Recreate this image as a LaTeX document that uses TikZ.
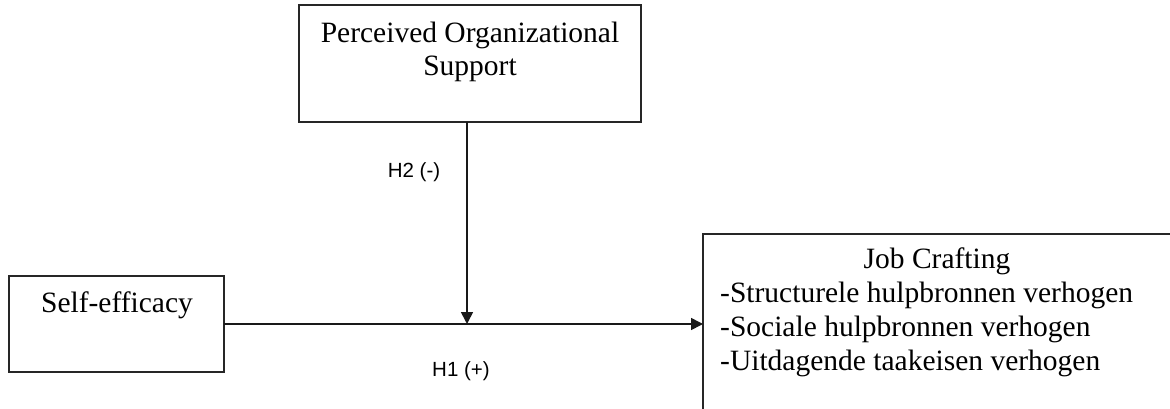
\documentclass[tikz,border=0pt]{standalone}
\usepackage{fontspec}
\setmainfont{Liberation Serif}
\newfontfamily\labelfont{Liberation Sans}
\usetikzlibrary{arrows.meta}
\begin{document}
\begin{tikzpicture}[x=1pt,y=-1pt,
  boxstyle/.style={draw=black!85,line width=1.6pt,inner sep=0pt,outer sep=0pt},
  openbox/.style={inner sep=0pt,outer sep=0pt},
  edge/.style={draw=black!85,line width=1.6pt},
  maintext/.style={font=\fontsize{29.5}{34}\selectfont,inner sep=0pt,anchor=base},
  hyplabel/.style={font=\labelfont\fontsize{20.5}{22}\selectfont,inner sep=0pt},
  conn/.style={line width=1.6pt,draw=black!90,-{Triangle[width=12pt,length=12pt]}}]
\useasboundingbox[fill=white] (0,0) rectangle (1170,409);
% boxes
\node[boxstyle,minimum width=342pt,minimum height=117pt] (pos) at (470,63.5) {};
\node[boxstyle,minimum width=215pt,minimum height=96pt] (se) at (116.5,324) {};
\node[openbox,minimum width=467pt,minimum height=175pt] (jc) at (936.5,321.5) {};
\draw[edge] (jc.south west) -- (jc.north west) -- (jc.north east);
% texts
\node[maintext] (t1) at (470,43) {Perceived Organizational};
\node[maintext] (t2) at (470,76) {Support};
\node[maintext] (t3) at (117,312) {Self-efficacy};
\node[maintext] (t4) at (937,268) {Job Crafting};
\node[maintext,anchor=base west] (t5) at (720,302) {-Structurele hulpbronnen verhogen};
\node[maintext,anchor=base west] (t6) at (720,336) {-Sociale hulpbronnen verhogen};
\node[maintext,anchor=base west] (t7) at (720,370) {-Uitdagende taakeisen verhogen};
% labels
\node[hyplabel] (h2) at (414,172) {H2 (-)};
\node[hyplabel] (h1) at (461,371) {H1 (+)};
% connectors
\coordinate (m) at (467,324);
\draw[conn] (se.east) -- (se.east -| jc.west);
\draw[conn] (pos.south -| m) -- (m);
\end{tikzpicture}
\end{document}
